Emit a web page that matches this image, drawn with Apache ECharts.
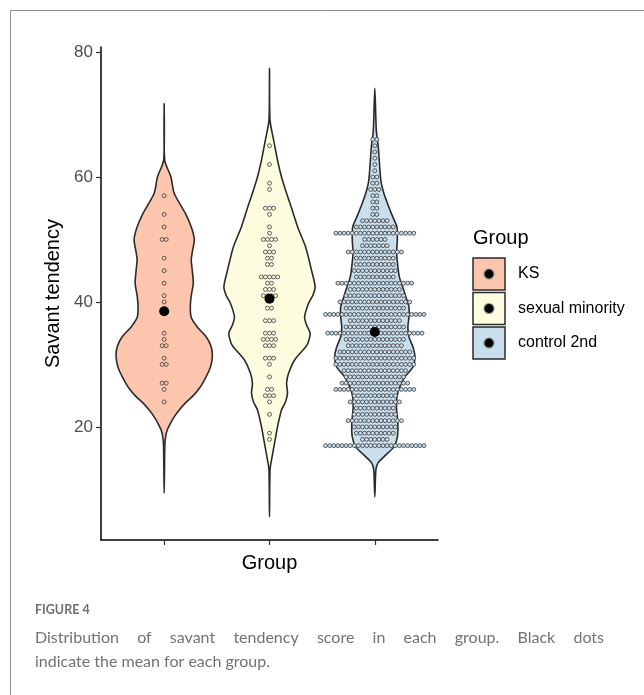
<!DOCTYPE html>
<html>
<head>
<meta charset="utf-8">
<script src="https://cdn.jsdelivr.net/npm/echarts@6/dist/echarts.min.js"></script>
<style>
  html, body { margin: 0; padding: 0; background: #fff; }
  #chart { width: 644px; height: 695px; }
</style>
</head>
<body>
<div id="chart"></div>
<script>
// ---- data ----
const groups = ['KS', 'sexual minority', 'control 2nd'];
const groupPos = [1, 2, 3];
const yTicks = [20, 40, 60, 80];
const groupMeans = [38.5, 40.5, 35.2];

// violin outlines: [score, half-width in group units], top to bottom
const violinKS = [
  [71.7, 0], [62.7, 0.005], [60, 0.064], [57.4, 0.095], [54.2, 0.2], [52, 0.257],
  [50, 0.286], [48, 0.267], [46.7, 0.257], [45, 0.267], [43, 0.276], [41, 0.257],
  [39.2, 0.248], [37.5, 0.257], [36, 0.314], [34.4, 0.4], [33, 0.443], [31.8, 0.457],
  [30.5, 0.452], [29.1, 0.429], [27.5, 0.381], [26.4, 0.343], [25, 0.276], [23.8, 0.2],
  [22.5, 0.133], [21.6, 0.095], [20.5, 0.057], [19.5, 0.029], [18.5, 0.014], [17, 0.006],
  [9.4, 0]
];
const violinSM = [
  [77.4, 0], [69.1, 0.005], [66, 0.038], [62.7, 0.076], [60, 0.114], [57.4, 0.162],
  [55, 0.21], [52, 0.267], [48.8, 0.343], [45, 0.4], [42.4, 0.433], [41, 0.41],
  [39.8, 0.371], [37.6, 0.333], [36.3, 0.352], [35, 0.386], [33.5, 0.367], [32.8, 0.343],
  [30.7, 0.238], [28.6, 0.181], [27, 0.162], [25.4, 0.171], [24, 0.152], [22.7, 0.114],
  [20, 0.076], [17.4, 0.048], [14.7, 0.019], [13.1, 0.005], [5.6, 0]
];
const violinCtrl = [
  [74.2, 0], [67.5, 0.014], [64.8, 0.033], [59.5, 0.057], [57.4, 0.086], [55.2, 0.133],
  [53.6, 0.171], [52, 0.21], [49.9, 0.214], [47.8, 0.207], [45.6, 0.219], [44, 0.233],
  [42.5, 0.262], [40.8, 0.295], [39.2, 0.324], [37.6, 0.324], [36, 0.314], [34.4, 0.324],
  [32.8, 0.362], [31.2, 0.381], [29.6, 0.362], [28, 0.286], [26.4, 0.238], [24.8, 0.21],
  [22.7, 0.207], [20.6, 0.219], [18.4, 0.214], [16.8, 0.181], [15.2, 0.086], [14.2, 0.029],
  [13.1, 0.01], [8.8, 0]
];

// dot plot rows: [score, number of respondents]
const dotsKS = [
  [57, 1], [54, 1], [52, 1], [50, 2], [47, 1], [45, 1], [43, 1], [41, 1], [40, 1],
  [35, 1], [34, 1], [33, 2], [31, 1], [30, 2], [27, 2], [26, 1], [24, 1]
];
const dotsSM = [
  [65, 1], [62, 1], [59, 1], [58, 1], [55, 3], [54, 1], [52, 1], [51, 1], [50, 4],
  [49, 1], [48, 3], [47, 2], [46, 2], [44, 5], [43, 2], [42, 3], [41, 4], [39, 2],
  [37, 3], [35, 3], [34, 4], [33, 3], [31, 3], [30, 1], [28, 1], [26, 2], [25, 3],
  [24, 1], [22, 1], [19, 1], [18, 1]
];
const dotsCtrl = [
  [66, 2], [65, 1], [64, 1], [63, 1], [62, 1], [61, 1], [60, 2], [59, 2], [58, 3],
  [57, 2], [56, 2], [55, 2], [54, 2], [53, 7], [52, 10], [51, 20], [50, 6], [49, 7],
  [48, 14], [47, 10], [46, 10], [45, 11], [44, 10], [43, 19], [42, 13], [41, 15],
  [40, 18], [39, 15], [38, 25], [37, 13], [36, 15], [35, 24], [34, 15], [33, 14],
  [32, 18], [31, 20], [30, 20], [29, 16], [28, 15], [27, 17], [26, 20], [25, 11],
  [24, 13], [23, 10], [22, 11], [21, 14], [20, 11], [19, 10], [18, 7], [17, 25]
];

const captionTitle = 'FIGURE 4';
const captionLines = [
  'Distribution of savant tendency score in each group. Black dots',
  'indicate the mean for each group.'
];

// ---- styling ----
const groupFills = ['#FBC6AD', '#FEFDE0', '#C9DFEE'];
const FONT = '"Liberation Sans", Arial, sans-serif';
const CAP_FONT = 'Lato, "Open Sans", sans-serif';
const OUTLINE = '#2b2b2b';
const DOT_PITCH = 4.1;

const violins = [violinKS, violinSM, violinCtrl];
const dotRows = [dotsKS, dotsSM, dotsCtrl];

const chart = echarts.init(document.getElementById('chart'), null, { renderer: 'canvas' });

function renderViolin(params, api) {
  const g = params.dataIndex;
  const pos = api.value(0);
  const prof = violins[g];
  const pts = [];
  for (let i = 0; i < prof.length; i++) {
    pts.push(api.coord([pos + prof[i][1], prof[i][0]]));
  }
  for (let i = prof.length - 2; i >= 1; i--) {
    pts.push(api.coord([pos - prof[i][1], prof[i][0]]));
  }
  return {
    type: 'polygon',
    shape: { points: pts, smooth: 0.25 },
    style: { fill: groupFills[g], stroke: OUTLINE, lineWidth: 1.6 }
  };
}

function renderDots(params, api) {
  const g = api.value(0) - 1;
  const c = api.coord([api.value(0), api.value(1)]);
  const n = api.value(2);
  const children = [];
  for (let i = 0; i < n; i++) {
    children.push({
      type: 'circle',
      shape: { cx: c[0] + (i - (n - 1) / 2) * DOT_PITCH, cy: c[1], r: 1.95 },
      style: { fill: groupFills[g], stroke: '#4a4a4a', lineWidth: 0.9 }
    });
  }
  return { type: 'group', children };
}

const dotData = [];
dotRows.forEach((rows, g) => rows.forEach(r => dotData.push([groupPos[g], r[0], r[1]])));

// legend and caption built as graphic elements
const graphics = [
  { type: 'line', shape: { x1: 10.5, y1: 10.5, x2: 644, y2: 10.5 }, style: { stroke: '#8f8f8f', lineWidth: 1 } },
  { type: 'line', shape: { x1: 10.5, y1: 10.5, x2: 10.5, y2: 695 }, style: { stroke: '#8f8f8f', lineWidth: 1 } },
  { type: 'text', x: 473, y: 238, style: { text: 'Group', fontSize: 20, fontFamily: FONT, fill: '#000', align: 'left', verticalAlign: 'middle' } }
];
groups.forEach((name, i) => {
  const cy = 274 + i * 34.5;
  graphics.push(
    { type: 'rect', shape: { x: 473, y: cy - 16, width: 32, height: 32 }, style: { fill: groupFills[i], stroke: OUTLINE, lineWidth: 1.5 } },
    { type: 'circle', shape: { cx: 489, cy: cy, r: 5.6 }, style: { fill: '#8c8c8c' } },
    { type: 'circle', shape: { cx: 489, cy: cy, r: 4.4 }, style: { fill: '#000' } },
    { type: 'text', x: 518, y: cy, style: { text: name, fontSize: 16, fontFamily: FONT, fill: '#000', align: 'left', verticalAlign: 'middle' } }
  );
});

graphics.push({ type: 'text', x: 35, y: 610, style: { text: captionTitle, fontSize: 12.5, fontWeight: 'bold', fontFamily: CAP_FONT, fill: '#6f6f6f', align: 'left', verticalAlign: 'middle' } });

// first caption line is justified across the text block
(function () {
  const capSize = 16;
  const left = 35, right = 604;
  const ctx = document.createElement('canvas').getContext('2d');
  ctx.font = capSize + 'px Lato';
  const words = captionLines[0].split(' ');
  const widths = words.map(w => ctx.measureText(w).width);
  const total = widths.reduce((a, b) => a + b, 0);
  const gap = (right - left - total) / (words.length - 1);
  let x = left;
  words.forEach((w, i) => {
    graphics.push({ type: 'text', x: x, y: 638, style: { text: w, fontSize: capSize, fontFamily: CAP_FONT, fill: '#727272', align: 'left', verticalAlign: 'middle' } });
    x += widths[i] + gap;
  });
  graphics.push({ type: 'text', x: left, y: 662, style: { text: captionLines[1], fontSize: capSize, fontFamily: CAP_FONT, fill: '#727272', align: 'left', verticalAlign: 'middle' } });
})();

const option = {
  animation: false,
  backgroundColor: '#fff',
  grid: { left: 101, right: 206, top: 47, bottom: 155 },
  xAxis: {
    type: 'value', min: 0.4, max: 3.6,
    axisLine: { show: true, lineStyle: { color: '#000', width: 1.5 } },
    axisTick: { show: true, customValues: groupPos, length: 5, lineStyle: { color: '#333', width: 1.2 } },
    axisLabel: { show: false },
    splitLine: { show: false },
    name: 'Group', nameLocation: 'middle', nameGap: 13,
    nameTextStyle: { fontSize: 20, color: '#000', fontFamily: FONT, verticalAlign: 'top' }
  },
  yAxis: {
    type: 'value', min: 1.9, max: 80.8,
    axisLine: { show: true, lineStyle: { color: '#000', width: 1.5 } },
    axisTick: { show: true, customValues: yTicks, length: 5, lineStyle: { color: '#333', width: 1.2 } },
    axisLabel: { customValues: yTicks, fontSize: 17, color: '#4d4d4d', fontFamily: FONT, margin: 8 },
    splitLine: { show: false },
    name: 'Savant tendency', nameLocation: 'middle', nameGap: 34,
    nameTextStyle: { fontSize: 20, color: '#000', fontFamily: FONT }
  },
  series: [
    {
      type: 'custom', name: 'violin', renderItem: renderViolin,
      data: groupPos.map(p => [p, groupMeans[p - 1]]),
      encode: { x: 0, y: 1 }, z: 2, silent: true
    },
    {
      type: 'custom', name: 'dots', renderItem: renderDots,
      data: dotData, encode: { x: 0, y: 1 }, z: 3, silent: true
    },
    {
      type: 'scatter', name: 'mean',
      data: groupPos.map((p, i) => [p, groupMeans[i]]),
      symbolSize: 10, itemStyle: { color: '#000', opacity: 1 }, z: 4, silent: true
    }
  ],
  graphic: graphics
};

chart.setOption(option);
</script>
</body>
</html>
